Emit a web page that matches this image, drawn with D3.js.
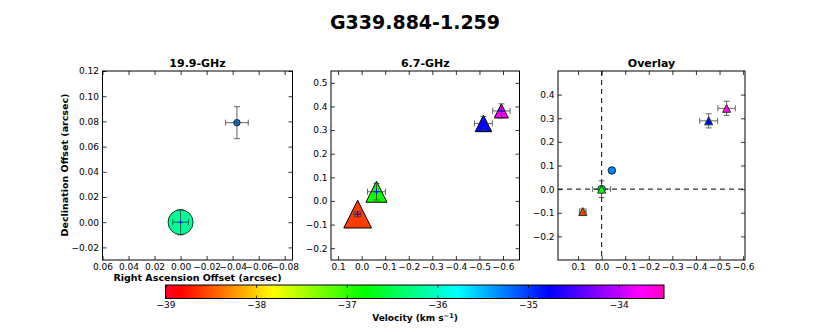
<!DOCTYPE html>
<html>
<head>
<meta charset="utf-8">
<script src="https://cdn.jsdelivr.net/npm/d3@7"></script>
<style>
  body { margin: 0; background: #fff; }
  text { font-family: "DejaVu Sans", sans-serif; fill: #000; }
</style>
</head>
<body>
<div id="chart"></div>
<script>
var figTitle = "G339.884-1.259";

// 19.9-GHz continuum components
var cRA = [0.0, -0.0433];
var cDec = [0.0, 0.079];
var cRAerr = [0.006, 0.0087];
var cDecErr = [0.01, 0.0127];
var cVel = [-36.2, -35.3];
var cFlux = [6.25, 0.42];

// 6.7-GHz maser spots
var mRA = [0.017, -0.063, -0.517, -0.593];
var mDec = [-0.056, 0.039, 0.328, 0.381];
var mRAerr = [0.014, 0.038, 0.038, 0.037];
var mDecErr = [0.011, 0.035, 0.03, 0.03];
var mVel = [-38.6, -36.85, -34.8, -33.7];
var mFlux = [7.67, 4.41, 2.72, 1.96];

// the overlay puts this maser spot on the continuum peak
var refSpot = 1;

var ticks1x = [0.06, 0.04, 0.02, 0.00, -0.02, -0.04, -0.06, -0.08];
var ticks1y = [-0.02, 0.00, 0.02, 0.04, 0.06, 0.08, 0.10, 0.12];
var ticks2x = [0.1, 0.0, -0.1, -0.2, -0.3, -0.4, -0.5, -0.6];
var ticks2y = [-0.2, -0.1, 0.0, 0.1, 0.2, 0.3, 0.4, 0.5];
var ticks3x = [0.1, 0.0, -0.1, -0.2, -0.3, -0.4, -0.5, -0.6];
var ticks3y = [-0.2, -0.1, 0.0, 0.1, 0.2, 0.3, 0.4];
var velTicks = [-39, -38, -37, -36, -35, -34];
var velMin = -39, velMax = -33.5;

// gist_rainbow
var cmapT = [0, 0.03, 0.215, 0.4, 0.586, 0.77, 0.954, 1];
var cmapC = ["rgb(255,0,41)", "rgb(255,0,0)", "rgb(255,255,0)", "rgb(0,255,0)",
             "rgb(0,255,255)", "rgb(0,0,255)", "rgb(255,0,255)", "rgb(255,0,191)"];

var width = 830, height = 332;

var velColor = d3.scaleLinear()
    .domain(cmapT.map(function(t) { return velMin + t * (velMax - velMin); }))
    .range(cmapC)
    .clamp(true);

var sizeScale = d3.scaleSqrt().domain([0, 1]).range([0, 10]);

var svg = d3.select("#chart").append("svg")
    .attr("width", width)
    .attr("height", height);

svg.append("text")
    .attr("x", 415).attr("y", 29)
    .attr("text-anchor", "middle")
    .style("font-size", "19px").style("font-weight", "bold")
    .text(figTitle);

var plotTop = 71, plotBottom = 260;

function makePanel(x0, x1, xdom, ydom, xticks, yticks, xfmt, yfmt, title) {
  var x = d3.scaleLinear().domain(xdom).range([x0, x1]);
  var y = d3.scaleLinear().domain(ydom).range([plotBottom, plotTop]);
  var g = svg.append("g");

  g.append("text")
      .attr("x", (x0 + x1) / 2).attr("y", 67)
      .attr("text-anchor", "middle")
      .style("font-size", "11px").style("font-weight", "bold")
      .text(title);

  // ticks inside on all four sides
  var ax = [
    d3.axisBottom(x).tickValues(xticks).tickFormat(d3.format(xfmt)),
    d3.axisTop(x).tickValues(xticks).tickFormat(""),
    d3.axisLeft(y).tickValues(yticks).tickFormat(d3.format(yfmt)),
    d3.axisRight(y).tickValues(yticks).tickFormat("")
  ];
  var pos = ["translate(0," + plotBottom + ")", "translate(0," + plotTop + ")",
             "translate(" + x0 + ",0)", "translate(" + x1 + ",0)"];
  ax.forEach(function(a, i) {
    var s = g.append("g").attr("transform", pos[i])
        .call(a.tickSizeInner(-4).tickSizeOuter(0).tickPadding(i == 0 ? 3.5 : 3.5));
    s.select(".domain").remove();
    s.selectAll("line").attr("stroke", "#000").attr("stroke-width", 0.8);
    s.selectAll("text").style("font-size", "9px").style("font-family", "DejaVu Sans");
  });

  g.append("rect")
      .attr("x", x0).attr("y", plotTop)
      .attr("width", x1 - x0).attr("height", plotBottom - plotTop)
      .attr("fill", "none").attr("stroke", "#000").attr("stroke-width", 1);

  var plot = g.append("g");
  return { x: x, y: y, g: plot };
}

function errorBars(p, px, py, ex, ey, cap) {
  var cx = p.x(px), cy = p.y(py);
  var x1 = p.x(px + ex), x2 = p.x(px - ex);
  var y1 = p.y(py + ey), y2 = p.y(py - ey);
  var eg = p.g.append("g").attr("stroke", "#333").attr("stroke-width", 1).attr("opacity", 0.75);
  eg.append("line").attr("x1", x1).attr("x2", x2).attr("y1", cy).attr("y2", cy);
  eg.append("line").attr("x1", cx).attr("x2", cx).attr("y1", y1).attr("y2", y2);
  [x1, x2].forEach(function(v) {
    eg.append("line").attr("x1", v).attr("x2", v).attr("y1", cy - cap).attr("y2", cy + cap);
  });
  [y1, y2].forEach(function(v) {
    eg.append("line").attr("y1", v).attr("y2", v).attr("x1", cx - cap).attr("x2", cx + cap);
  });
}

function plus(p, px, py, s) {
  var cx = p.x(px), cy = p.y(py);
  var pg = p.g.append("g").attr("stroke", "#0000ff").attr("stroke-width", 1);
  pg.append("line").attr("x1", cx - s).attr("x2", cx + s).attr("y1", cy).attr("y2", cy);
  pg.append("line").attr("x1", cx).attr("x2", cx).attr("y1", cy - s).attr("y2", cy + s);
}

function triangle(p, px, py, side, fill, stroke) {
  var cx = p.x(px), cy = p.y(py), h = side / 2;
  p.g.append("path")
      .attr("d", "M" + cx + "," + (cy - h) + "L" + (cx + h) + "," + (cy + h) + "L" + (cx - h) + "," + (cy + h) + "Z")
      .attr("fill", fill).attr("stroke", stroke).attr("stroke-width", 1);
}

function circle(p, px, py, r, fill) {
  p.g.append("circle")
      .attr("cx", p.x(px)).attr("cy", p.y(py)).attr("r", r)
      .attr("fill", fill).attr("stroke", "#000").attr("stroke-width", 0.8);
}

// ---- 19.9-GHz
var p1 = makePanel(102.5, 292.5, [0.06, -0.086], [-0.03, 0.12], ticks1x, ticks1y, ".2f", ".2f", "19.9-GHz");
cRA.forEach(function(d, i) {
  circle(p1, cRA[i], cDec[i], sizeScale(cFlux[i]) / 2, velColor(cVel[i]));
  errorBars(p1, cRA[i], cDec[i], cRAerr[i], cDecErr[i], 3);
});
plus(p1, cRA[0], cDec[0], 2);

// ---- 6.7-GHz
var p2 = makePanel(331, 519.5, [0.13, -0.67], [-0.25, 0.55], ticks2x, ticks2y, ".1f", ".1f", "6.7-GHz");
mRA.forEach(function(d, i) {
  triangle(p2, mRA[i], mDec[i], sizeScale(mFlux[i]), velColor(mVel[i]), "#000");
  errorBars(p2, mRA[i], mDec[i], mRAerr[i], mDecErr[i], 3);
  plus(p2, mRA[i], mDec[i], 3);
});

// ---- Overlay
var p3 = makePanel(558, 745, [0.185, -0.608], [-0.3, 0.5], ticks3x, ticks3y, ".1f", ".1f", "Overlay");
p3.g.append("line")
    .attr("x1", p3.x(0)).attr("x2", p3.x(0)).attr("y1", plotTop).attr("y2", plotBottom)
    .attr("stroke", "#000").attr("stroke-dasharray", "5,4").attr("stroke-width", 1);
p3.g.append("line")
    .attr("x1", 558).attr("x2", 745).attr("y1", p3.y(0)).attr("y2", p3.y(0))
    .attr("stroke", "#000").attr("stroke-dasharray", "5,4").attr("stroke-width", 1);

cRA.forEach(function(d, i) {
  circle(p3, cRA[i], cDec[i], 3.8, velColor(cVel[i]));
});
mRA.forEach(function(d, i) {
  var ox = mRA[i] - mRA[refSpot], oy = mDec[i] - mDec[refSpot];
  errorBars(p3, ox, oy, mRAerr[i], mDecErr[i], 3);
  triangle(p3, ox, oy, 8, velColor(mVel[i]), "#1f3a22");
});

// axis labels
svg.append("text")
    .attr("transform", "translate(68,165) rotate(-90)")
    .attr("text-anchor", "middle")
    .style("font-size", "9.5px").style("font-weight", "bold")
    .text("Declination Offset (arcsec)");

svg.append("text")
    .attr("x", 197.5).attr("y", 281)
    .attr("text-anchor", "middle")
    .style("font-size", "9.5px").style("font-weight", "bold")
    .text("Right Ascension Offset (arcsec)");

// ---- colorbar
var cbX = d3.scaleLinear().domain([velMin, velMax]).range([165.5, 664]);
var cbTop = 285, cbH = 13.5;

var grad = svg.append("defs").append("linearGradient")
    .attr("id", "cmap").attr("x1", "0%").attr("x2", "100%");
cmapT.forEach(function(t, i) {
  grad.append("stop").attr("offset", (t * 100) + "%").attr("stop-color", cmapC[i]);
});

svg.append("rect")
    .attr("x", cbX(velMin)).attr("y", cbTop)
    .attr("width", cbX(velMax) - cbX(velMin)).attr("height", cbH)
    .attr("fill", "url(#cmap)").attr("stroke", "#000").attr("stroke-width", 1);

var cbAxis = svg.append("g")
    .attr("transform", "translate(0," + (cbTop + cbH) + ")")
    .call(d3.axisBottom(cbX).tickValues(velTicks).tickFormat(d3.format("d"))
      .tickSizeInner(-3).tickSizeOuter(0).tickPadding(3));
cbAxis.select(".domain").remove();
cbAxis.selectAll("line").attr("stroke", "#000").attr("stroke-width", 0.8);
cbAxis.selectAll("text").style("font-size", "9px").style("font-family", "DejaVu Sans");

var cbTopTicks = svg.append("g")
    .attr("transform", "translate(0," + cbTop + ")")
    .call(d3.axisTop(cbX).tickValues(velTicks).tickFormat("").tickSizeInner(-3).tickSizeOuter(0));
cbTopTicks.select(".domain").remove();
cbTopTicks.selectAll("line").attr("stroke", "#000").attr("stroke-width", 0.8);

var vl = svg.append("text")
    .attr("x", 415).attr("y", 321)
    .attr("text-anchor", "middle")
    .style("font-size", "9px").style("font-weight", "bold");
vl.append("tspan").text("Velocity (km s");
vl.append("tspan").attr("dy", -3.5).style("font-size", "6.5px").text("\u22121");
vl.append("tspan").attr("dy", 3.5).text(")");
</script>
</body>
</html>
